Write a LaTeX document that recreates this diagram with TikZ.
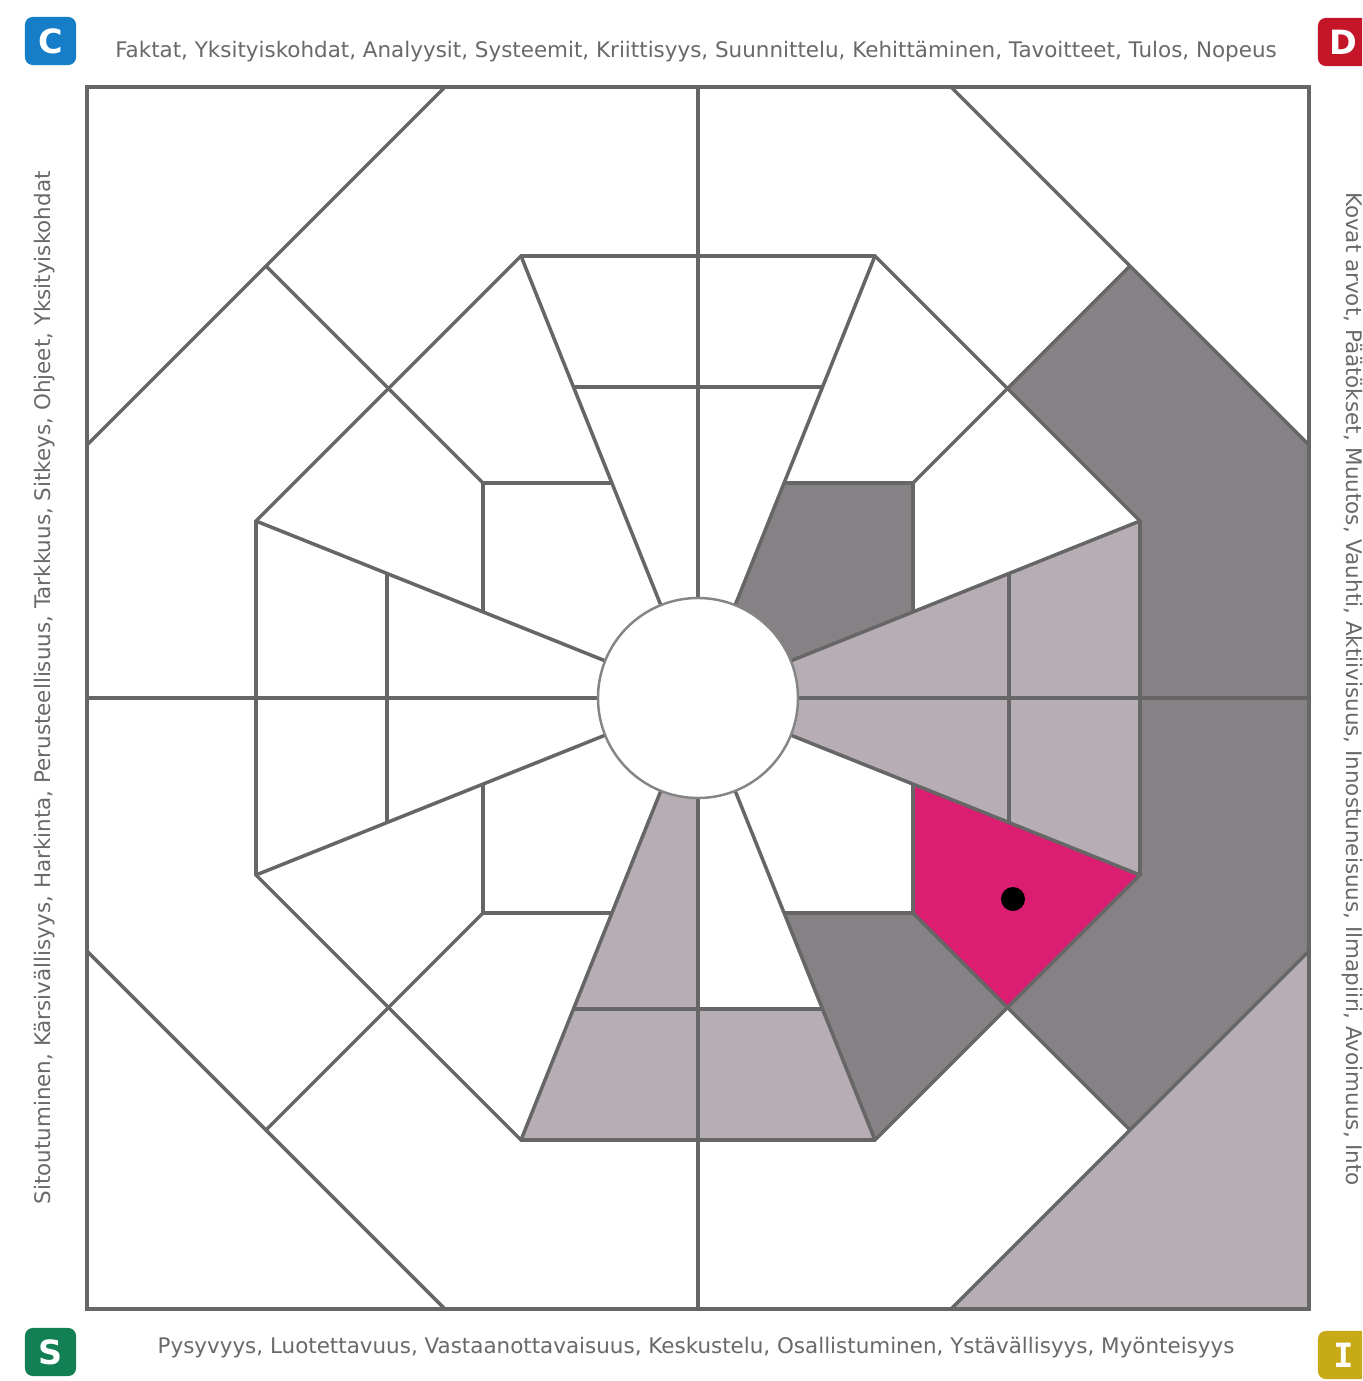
\documentclass[tikz,border=0pt]{standalone}
\usepackage{fontspec}
\setmainfont{DejaVu Sans}
\newfontfamily\badgemono{DejaVu Sans Mono}
\usepackage{xcolor}
\usepackage{tikz}

\definecolor{darkcell}{RGB}{134,129,133}
\definecolor{lightcell}{RGB}{183,173,181}
\definecolor{pinkcell}{RGB}{219,30,114}
\definecolor{linegray}{RGB}{102,102,102}
\definecolor{textgray}{RGB}{105,105,105}
\definecolor{cblue}{RGB}{22,125,200}
\definecolor{dred}{RGB}{196,22,40}
\definecolor{sgreen}{RGB}{18,128,84}
\definecolor{iyellow}{RGB}{200,170,24}

\begin{document}
\begin{tikzpicture}[x=0.01cm, y=0.01cm,
  cellline/.style={draw=linegray, line width=1pt, line join=miter},
  frame/.style={draw=linegray, line width=1.3pt},
  sidetext/.style={text=textgray, inner sep=0pt, font=\fontsize{6.1}{7}\selectfont},
  badge/.style={text=white, rounded corners=2.2pt, minimum width=0.51cm, minimum height=0.48cm, inner sep=0pt, font=\fontsize{9.5}{10}\selectfont\bfseries}]
\clip (-698,-683) rectangle (664,698);
\fill[white] (-698,-683) rectangle (664,698);
% Shaded cells
\fill[darkcell] (442,177) -- (309.5,309.5) -- (432,432) -- (611,253) -- (611,-253) -- (432,-432) -- (309.5,-309.5) -- (442,-177) -- cycle;
\fill[darkcell] (0,0) -- (215,86) -- (215,215) -- (86,215) -- cycle;
\fill[darkcell] (86,-215) -- (177,-442) -- (309.5,-309.5) -- (215,-215) -- cycle;
\fill[lightcell] (0,0) -- (442,177) -- (442,-177) -- cycle;
\fill[lightcell] (0,-311) -- (0,-442) -- (177,-442) -- (124.5,-311) -- cycle;
\fill[lightcell] (0,0) -- (-177,-442) -- (0,-442) -- cycle;
\fill[lightcell] (253,-611) -- (611,-611) -- (611,-253) -- cycle;
\fill[pinkcell] (215,-86) -- (442,-177) -- (309.5,-309.5) -- (215,-215) -- cycle;
% Octagons
\draw[cellline] (611,253) -- (253,611) -- (-253,611) -- (-611,253) -- (-611,-253) -- (-253,-611) -- (253,-611) -- (611,-253) -- cycle;
\draw[cellline] (442,177) -- (177,442) -- (-177,442) -- (-442,177) -- (-442,-177) -- (-177,-442) -- (177,-442) -- (442,-177) -- cycle;
% Spokes
\foreach \r in {0,90,180,270} {
  \draw[cellline, rotate=\r] (0,0) -- (442,177) (0,0) -- (177,442);
  \draw[cellline, rotate=\r] (215,86) -- (215,215) -- (86,215) (215,215) -- (432,432);
  \draw[cellline, rotate=\r] (311,-124.5) -- (311,124.5);
}
\draw[cellline] (-611,0) -- (611,0);
\draw[cellline] (0,-611) -- (0,611);
% Marker
\fill[black] (315,-201) circle (12);
% Centre and frame
\draw[draw=linegray!80, line width=0.7pt, fill=white] (0,0) circle (100);
\draw[frame] (-611,-611) rectangle (611,611);
% Side labels
\node[sidetext] (toptext) at (-2,646) {Faktat, Yksityiskohdat, Analyysit, Systeemit, Kriittisyys, Suunnittelu, Kehittäminen, Tavoitteet, Tulos, Nopeus};
\node[sidetext] (bottomtext) at (-2,-650) {Pysyvyys, Luotettavuus, Vastaanottavaisuus, Keskustelu, Osallistuminen, Ystävällisyys, Myönteisyys};
\node[sidetext, rotate=90] (lefttext) at (-653,10) {Sitoutuminen, Kärsivällisyys, Harkinta, Perusteellisuus, Tarkkuus, Sitkeys, Ohjeet, Yksityiskohdat};
\node[sidetext, rotate=-90] (righttext) at (654,9) {Kovat arvot, Päätökset, Muutos, Vauhti, Aktiivisuus, Innostuneisuus, Ilmapiiri, Avoimuus, Into};
% Corner badges
\node[badge, fill=cblue] (cbadge) at (-647.5,657) {C};
\node[badge, fill=dred] (dbadge) at (645.5,656) {D};
\node[badge, fill=sgreen] (sbadge) at (-647.5,-654) {S};
\node[badge, fill=iyellow, font=\fontsize{9.5}{10}\selectfont\badgemono\bfseries] (ibadge) at (645.5,-657) {I};
\end{tikzpicture}
\end{document}
